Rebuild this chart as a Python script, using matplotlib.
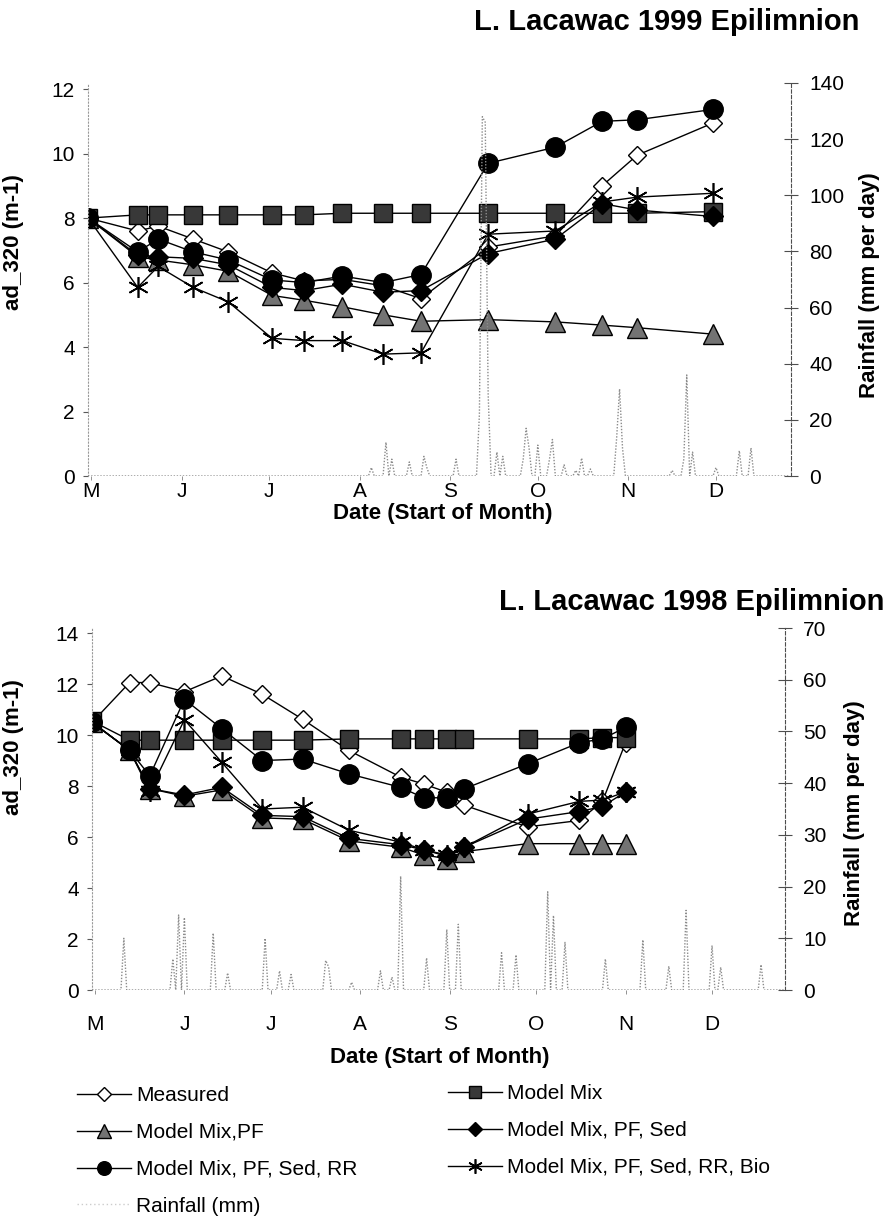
import numpy as np
import matplotlib
matplotlib.use("Agg")
import matplotlib.pyplot as plt
from matplotlib.lines import Line2D

plt.rcParams['font.family'] = ['Liberation Sans', 'DejaVu Sans']

# ---------------- data ----------------
month_labels = ['M', 'J', 'J', 'A', 'S', 'O', 'N', 'D']
month_start_day = [0, 31, 61, 92, 123, 153, 184, 214]   # days since 1 May

# 1999 (days since 1 May)
days99 = [-1, 16, 23, 35, 47, 62, 73, 86, 100, 113, 136, 159, 175, 187, 213]
measured99 = [8.0, 7.6, 7.75, 7.35, 6.95, 6.3, 6.05, 6.1, 5.9, 5.5, 7.1, 7.45, 9.0, 9.95, 10.95]
mix99 = [8.0, 8.1, 8.1, 8.1, 8.1, 8.1, 8.1, 8.15, 8.15, 8.15, 8.15, 8.15, 8.15, 8.15, 8.2]
pf99 = [8.0, 6.8, 6.7, 6.55, 6.35, 5.6, 5.45, 5.25, 5.0, 4.8, 4.85, 4.78, 4.68, 4.6, 4.4]
sed99 = [8.0, 6.85, 6.8, 6.75, 6.55, 5.85, 5.75, 5.95, 5.7, 5.75, 6.9, 7.35, 8.45, 8.25, 8.05]
rr99 = [8.0, 6.95, 7.35, 6.95, 6.7, 6.08, 6.0, 6.2, 6.0, 6.25, 9.7, 10.2, 11.0, 11.05, 11.37]
bio99 = [8.0, 5.85, 6.5, 5.85, 5.4, 4.27, 4.2, 4.2, 3.78, 3.82, 7.5, 7.6, 8.5, 8.65, 8.77]

rain99_day = [96, 101, 103, 109, 114, 115, 125, 133, 134, 135, 136, 139, 141, 148, 149,
              150, 153, 157, 158, 162, 166, 168, 171, 180, 181, 182, 199, 203, 204, 206,
              214, 222, 226]
rain99_mm = [3, 12, 6, 5, 7, 3, 6, 22, 128, 126, 29, 8.5, 7, 6, 17,
             10, 11, 6, 13, 4, 2, 6.4, 2.5, 13.6, 31, 10, 2, 6, 36, 8.5,
             3, 9, 10]

# 1998 (days since 1 May)
days98 = [-1, 12, 19, 31, 44, 58, 72, 88, 106, 114, 122, 128, 150, 168, 176, 184]
measured98 = [10.5, 12.06, 12.06, 11.7, 12.32, 11.6, 10.62, 9.4, 8.35, 8.08, 7.76, 7.25, 6.4, 6.65, 7.4, 9.7]
mix98 = [10.55, 9.8, 9.8, 9.8, 9.8, 9.8, 9.8, 9.85, 9.85, 9.85, 9.85, 9.85, 9.85, 9.85, 9.9, 9.9]
pf98 = [10.5, 9.4, 7.9, 7.6, 7.85, 6.75, 6.7, 5.85, 5.6, 5.3, 5.15, 5.43, 5.74, 5.74, 5.74, 5.74]
sed98 = [10.5, 9.4, 7.9, 7.65, 7.95, 6.85, 6.8, 5.95, 5.7, 5.5, 5.25, 5.6, 6.7, 7.0, 7.2, 7.77]
rr98 = [10.5, 9.4, 8.4, 11.4, 10.25, 9.0, 9.06, 8.48, 7.95, 7.54, 7.54, 7.89, 8.87, 9.7, 9.85, 10.3]
bio98 = [10.5, 9.4, 7.8, 10.6, 8.93, 7.1, 7.17, 6.27, 5.8, 5.5, 5.3, 5.6, 6.9, 7.4, 7.45, 7.77]

rain98_day = [10, 27, 29, 31, 41, 46, 59, 64, 68, 80, 81, 89, 99, 103, 106, 115, 122, 126,
              141, 146, 157, 159, 163, 177, 190, 199, 205, 214, 217, 231]
rain98_mm = [10, 6, 14.5, 14, 11, 3.3, 10, 3.7, 3, 5.7, 4.5, 1.5, 3.7, 2.5, 22, 6.2, 11.7, 12.7,
             7.2, 6.8, 19, 14.4, 9.2, 6, 9.7, 4.6, 15.4, 8.6, 4.4, 4.9]

series_labels = ['Measured', 'Model Mix', 'Model Mix,PF', 'Model Mix, PF, Sed',
                 'Model Mix, PF, Sed, RR', 'Model Mix, PF, Sed, RR, Bio']
rain_label = 'Rainfall (mm)'

# ---------------- figure ----------------
W, H = 887, 1216
fig = plt.figure(figsize=(W / 100, H / 100), dpi=100)


def px_axes(l, r, t, b):
    return fig.add_axes([l / W, 1 - b / H, (r - l) / W, (b - t) / H])


styles = [
    dict(marker='D', ms=9.5, mfc='white', mec='black', mew=1.0),
    dict(marker='s', ms=13, mfc='0.22', mec='black', mew=1.0),
    dict(marker='^', ms=14, mfc='0.45', mec='black', mew=1.0),
    dict(marker='D', ms=10, mfc='black', mec='black', mew=1.0),
    dict(marker='o', ms=14, mfc='black', mec='black', mew=1.0),
    dict(marker=(6, 2, 0), ms=15, mfc='black', mec='black', mew=1.2),
]


def daily(days, mm, d0, d1):
    d = np.arange(d0, d1 + 1)
    v = np.zeros(len(d))
    for dd, m in zip(days, mm):
        v[dd - d0] = m
    return d, v


def make_panel(box, xlim, ylim, ymax_l, ystep_l, ylim_r, ystep_r, days, series,
               rdays, rmm, xpad):
    ax = px_axes(*box)
    ax.set_xlim(*xlim)
    ax.set_ylim(*ylim)
    handles = []
    for vals, st, lab in zip(series, styles, series_labels):
        h, = ax.plot(days, vals, color='black', lw=1.0, label=lab, **st)
        handles.append(h)
    for s in ['top', 'bottom', 'right']:
        ax.spines[s].set_visible(False)
    ax.spines['left'].set_color('0.6')
    ax.spines['left'].set_linestyle((0, (1, 2)))
    ax.spines['left'].set_linewidth(0.8)
    ax.set_yticks(np.arange(0, ymax_l + 0.1, ystep_l))
    ax.set_yticklabels([f"{int(v)}" for v in np.arange(0, ymax_l + 0.1, ystep_l)])
    ax.tick_params(axis='y', direction='out', length=3.5, width=0.8, color='0.35',
                   labelsize=15, pad=6)
    ax.set_xticks(month_start_day)
    ax.set_xticklabels(month_labels)
    ax.tick_params(axis='x', direction='out', length=3, width=0.6, color='0.5',
                   labelsize=15, pad=xpad)

    axr = ax.twinx()
    axr.set_ylim(*ylim_r)
    d, v = daily(rdays, rmm, -1, int(xlim[1]))
    rh, = axr.plot(d, v, color='0.55', lw=1.0, ls=(0, (1, 1.2)), label=rain_label)
    for s in ['top', 'bottom', 'left']:
        axr.spines[s].set_visible(False)
    axr.spines['right'].set_color('0.3')
    axr.spines['right'].set_linestyle((0, (3, 2)))
    axr.spines['right'].set_linewidth(0.8)
    axr.set_yticks(np.arange(0, ylim_r[1] + 0.1, ystep_r))
    axr.tick_params(axis='y', direction='inout', length=10, width=0.8, color='0.3',
                    labelsize=15, pad=8)
    return ax, axr, handles, rh


ax1, ax1r, h1, rh1 = make_panel((88, 791, 83, 476), (-1.03, 239.7), (0, 12.19), 12, 2,
                                (0, 140), 20, days99,
                                [measured99, mix99, pf99, sed99, rr99, bio99],
                                rain99_day, rain99_mm, 1.5)
ax2, ax2r, h2, rh2 = make_panel((92, 785, 628, 990), (-1.04, 239.3), (0, 14.2), 14, 2,
                                (0, 70), 10, days98,
                                [measured98, mix98, pf98, sed98, rr98, bio98],
                                rain98_day, rain98_mm, 15)

bold = dict(fontweight='bold')
fig.text(859 / W, 1 - 22 / H, 'L. Lacawac 1999 Epilimnion', ha='right', va='center',
         fontsize=21, **bold)
fig.text(884 / W, 1 - 602 / H, 'L. Lacawac 1998 Epilimnion', ha='right', va='center',
         fontsize=21, **bold)
fig.text(14 / W, 1 - 242 / H, 'ad_320 (m-1)', rotation=90, ha='center', va='center',
         fontsize=16, **bold)
fig.text(14 / W, 1 - 747 / H, 'ad_320 (m-1)', rotation=90, ha='center', va='center',
         fontsize=16, **bold)
fig.text(870 / W, 1 - 285 / H, 'Rainfall (mm per day)', rotation=90, ha='center',
         va='center', fontsize=16, **bold)
fig.text(855 / W, 1 - 813 / H, 'Rainfall (mm per day)', rotation=90, ha='center',
         va='center', fontsize=16, **bold)
fig.text(443 / W, 1 - 513 / H, 'Date (Start of Month)', ha='center', va='center',
         fontsize=16, **bold)
fig.text(440 / W, 1 - 1058 / H, 'Date (Start of Month)', ha='center', va='center',
         fontsize=16, **bold)

rain_handle = Line2D([], [], color='0.8', lw=1.0, ls=(0, (1, 2)), label=rain_label)
leg_kw = dict(loc='upper left', frameon=False, fontsize=15, handlelength=2.6,
              handletextpad=0.25, labelspacing=0.86, borderpad=0, borderaxespad=0,
              markerscale=0.7)
col1 = [h2[0], h2[2], h2[4], rain_handle]
col2 = [h2[1], h2[3], h2[5]]
fig.legend(col1, [h.get_label() for h in col1], bbox_to_anchor=(77 / W, 1 - 1086 / H),
           **leg_kw)
fig.legend(col2, [h.get_label() for h in col2], bbox_to_anchor=(448 / W, 1 - 1084 / H),
           **leg_kw)

fig.savefig('out.png', dpi=100, facecolor='white')
